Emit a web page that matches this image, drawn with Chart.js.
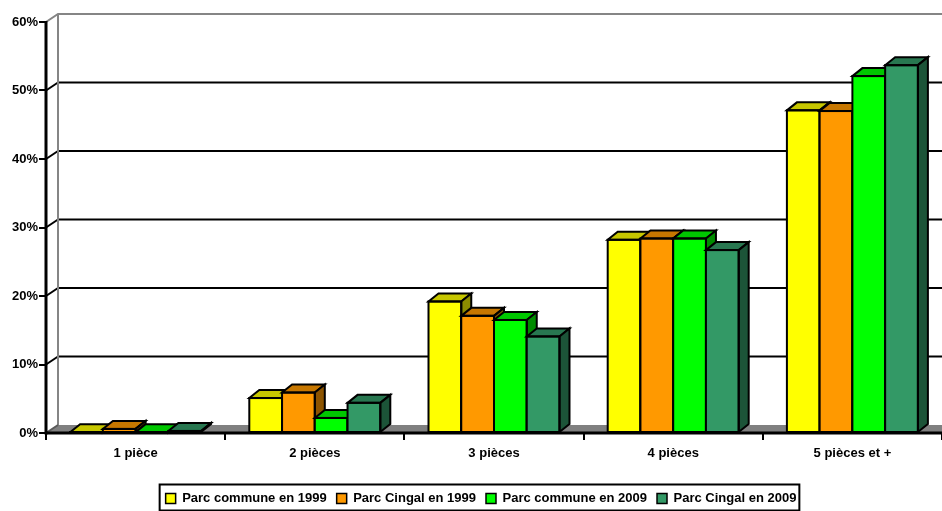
<!DOCTYPE html>
<html>
<head>
<meta charset="utf-8">
<script src="https://cdn.jsdelivr.net/npm/chart.js@4/dist/chart.umd.min.js"></script>
<style>
  html, body { margin: 0; padding: 0; background: #fff; }
  #wrap { width: 942px; height: 511px; }
</style>
</head>
<body>
<div id="wrap"><canvas id="c" width="942" height="511"></canvas></div>
<script>
// Répartition des logements par nombre de pièces (en %)
const categories = ['1 pièce', '2 pièces', '3 pièces', '4 pièces', '5 pièces et +'];
const seriesNames = ['Parc commune en 1999', 'Parc Cingal en 1999', 'Parc commune en 2009', 'Parc Cingal en 2009'];
const communeIn1999 = [0.1, 5.1, 19.2, 28.2, 47.1];
const cingalIn1999  = [0.6, 5.9, 17.1, 28.4, 47.0];
const communeIn2009 = [0.1, 2.2, 16.5, 28.4, 52.1];
const cingalIn2009  = [0.3, 4.4, 14.1, 26.7, 53.7];
const yTicks = [0, 10, 20, 30, 40, 50, 60];

const seriesValues = [communeIn1999, cingalIn1999, communeIn2009, cingalIn2009];
const frontColors = ['#FFFF00', '#FF9900', '#00FF00', '#339966'];

// depth of the back wall / floor and of the columns
const WALL_DX = 12, WALL_DY = -8;
const BAR_DX = 10, BAR_DY = -8;
const LEGEND_SHIFT = 10;

function shade(hex, k) {
  const n = parseInt(hex.slice(1), 16);
  const r = (n >> 16) & 255, g = (n >> 8) & 255, b = n & 255;
  return 'rgb(' + Math.round(r * k) + ',' + Math.round(g * k) + ',' + Math.round(b * k) + ')';
}
function poly(ctx, pts, fill) {
  ctx.beginPath();
  ctx.moveTo(pts[0][0], pts[0][1]);
  for (let i = 1; i < pts.length; i++) ctx.lineTo(pts[i][0], pts[i][1]);
  ctx.closePath();
  if (fill) { ctx.fillStyle = fill; ctx.fill(); }
  ctx.stroke();
}
function seg(ctx, x1, y1, x2, y2) {
  ctx.beginPath(); ctx.moveTo(x1, y1); ctx.lineTo(x2, y2); ctx.stroke();
}

const box3d = {
  id: 'box3d',
  afterLayout(chart) {
    // the legend block sits slightly right of centre
    const lg = chart.legend;
    if (lg) { lg.left += LEGEND_SHIFT; lg.right += LEGEND_SHIFT; }
  },
  beforeDatasetsDraw(chart) {
    const { ctx, chartArea: a } = chart;
    const y = chart.scales.y;
    const right = chart.width + 20;
    const y0 = y.getPixelForValue(yTicks[0]);
    const yTop = y.getPixelForValue(yTicks[yTicks.length - 1]);
    ctx.save();
    ctx.lineCap = 'butt';
    // floor
    ctx.fillStyle = '#808080';
    ctx.beginPath();
    ctx.moveTo(a.left, y0);
    ctx.lineTo(a.left + WALL_DX, y0 + WALL_DY);
    ctx.lineTo(right, y0 + WALL_DY);
    ctx.lineTo(right, y0);
    ctx.closePath();
    ctx.fill();
    // grid lines on the back wall
    ctx.strokeStyle = '#000';
    ctx.lineWidth = 2;
    yTicks.slice(1, -1).forEach(v => {
      const py = y.getPixelForValue(v);
      seg(ctx, a.left, py, a.left + WALL_DX, py + WALL_DY);
      seg(ctx, a.left + WALL_DX, py + WALL_DY, right, py + WALL_DY);
    });
    // wall edges
    ctx.strokeStyle = '#858585';
    ctx.lineWidth = 2;
    ctx.beginPath();
    ctx.moveTo(a.left, yTop);
    ctx.lineTo(a.left + WALL_DX, yTop + WALL_DY);
    ctx.lineTo(right, yTop + WALL_DY);
    ctx.stroke();
    seg(ctx, a.left + WALL_DX, yTop + WALL_DY, a.left + WALL_DX, y0 + WALL_DY);
    ctx.strokeStyle = '#5a5a5a';
    seg(ctx, a.left, y0, a.left + WALL_DX, y0 + WALL_DY);
    // axes
    ctx.strokeStyle = '#000';
    ctx.lineWidth = 3;
    seg(ctx, a.left, yTop - 1, a.left, y0 + 1.5);
    seg(ctx, a.left, y0, right, y0);
    ctx.restore();
  },
  beforeDatasetDraw() {
    // columns are drawn as boxes below, left to right
    return false;
  },
  afterDatasetsDraw(chart) {
    const { ctx } = chart;
    ctx.save();
    ctx.strokeStyle = '#000';
    ctx.lineWidth = 2;
    ctx.lineJoin = 'miter';
    for (let c = 0; c < categories.length; c++) {
      for (let i = 0; i < seriesValues.length; i++) {
        const bar = chart.getDatasetMeta(i).data[c];
        if (!bar) continue;
        const face = frontColors[i];
        const p = bar.getProps(['x', 'y', 'base', 'width'], true);
        const l = p.x - p.width / 2, r = p.x + p.width / 2;
        const t = p.y, b = p.base;
        ctx.fillStyle = face;
        ctx.fillRect(l, t, r - l, b - t);
        poly(ctx, [[l, t], [r, t], [r + BAR_DX, t + BAR_DY], [l + BAR_DX, t + BAR_DY]], shade(face, 0.78));
        poly(ctx, [[r, t], [r + BAR_DX, t + BAR_DY], [r + BAR_DX, b + BAR_DY], [r, b]], shade(face, 0.55));
        ctx.strokeRect(l, t, r - l, b - t);
      }
    }
    ctx.restore();
  },
  afterDraw(chart) {
    const hb = chart.legend && chart.legend.legendHitBoxes;
    if (!hb || !hb.length) return;
    const { ctx } = chart;
    const first = hb[0], last = hb[hb.length - 1];
    const cy = first.top + first.height / 2;
    const x1 = first.left - 6, x2 = last.left + last.width + 3;
    ctx.save();
    ctx.strokeStyle = '#000';
    ctx.lineWidth = 2;
    ctx.strokeRect(x1, cy - 14, x2 - x1, 26);
    ctx.restore();
  }
};

const font = 'Arial, "Liberation Sans", sans-serif';

new Chart(document.getElementById('c'), {
  type: 'bar',
  data: {
    labels: categories,
    datasets: seriesNames.map((name, i) => ({
      label: name,
      data: seriesValues[i],
      backgroundColor: frontColors[i],
      borderColor: '#000',
      borderWidth: 1.5,
      categoryPercentage: 0.731,
      barPercentage: 1.0
    }))
  },
  options: {
    responsive: false,
    animation: false,
    events: [],
    layout: { padding: { top: 22, right: 0, bottom: -4, left: 0 } },
    scales: {
      x: {
        grid: { offset: true, drawOnChartArea: false, drawTicks: true, tickLength: 7, color: '#000', lineWidth: 2 },
        border: { display: false },
        ticks: { color: '#000', font: { family: font, size: 13, weight: 'bold' }, padding: 6, maxRotation: 0, autoSkip: false },
        afterFit(scale) { scale.height = 49; }
      },
      y: {
        min: yTicks[0],
        max: yTicks[yTicks.length - 1],
        grid: { drawOnChartArea: false, drawTicks: true, tickLength: 7, color: '#000', lineWidth: 2 },
        border: { display: false },
        ticks: {
          stepSize: 10,
          color: '#000',
          padding: 1,
          font: { family: font, size: 13, weight: 'bold' },
          callback: v => v + '%'
        },
        afterFit(scale) { scale.width = 46; }
      }
    },
    plugins: {
      legend: {
        position: 'bottom',
        labels: {
          color: '#000',
          boxWidth: 10,
          boxHeight: 10,
          padding: 10,
          font: { family: font, size: 13, weight: 'bold' }
        }
      },
      tooltip: { enabled: false }
    }
  },
  plugins: [box3d]
});
</script>
</body>
</html>
